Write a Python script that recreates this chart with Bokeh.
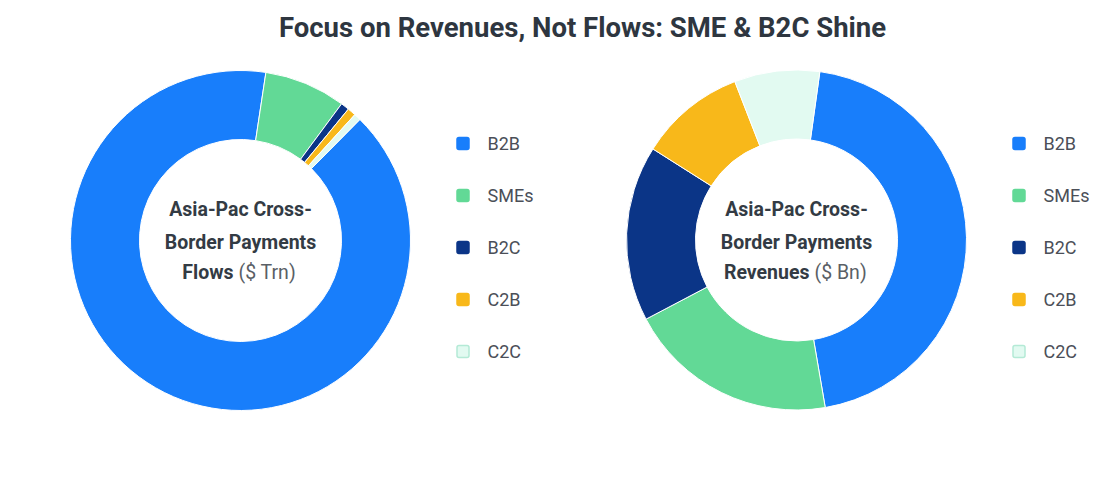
import math
from bokeh.plotting import figure
from bokeh.models import Range1d, ColumnDataSource
from bokeh.core.properties import value
from bokeh.embed import file_html
from bokeh.resources import INLINE

# ---- data (shares, %) ----
categories = ["B2B", "SMEs", "B2C", "C2B", "C2C"]
flows_share = [90.0, 7.75, 0.8, 0.8, 0.65]
revenue_share = [45.1, 20.0, 16.7, 10.1, 8.1]
colors = ["#187efb", "#62d996", "#0b3587", "#f8b81a", "#e2faf1"]
legend_border = ["#187efb", "#62d996", "#0b3587", "#f8b81a", "#b4ead6"]
title_text = "Focus on Revenues, Not Flows: SME & B2C Shine"
center_lines = ["Asia-Pac Cross-", "Border Payments"]
left_bold, left_light = "Flows", "($ Trn)"
right_bold, right_light = "Revenues", "($ Bn)"

W, H = 1098, 464
FONT = "Roboto"

p = figure(width=W, height=H, x_range=Range1d(0, W), y_range=Range1d(0, H),
           output_backend="svg", toolbar_location=None, min_border=0)
p.axis.visible = False
p.grid.visible = False
p.outline_line_color = None
p.background_fill_color = "white"


def Y(img_y):
    return H - img_y


def X(img_x):
    return img_x


def donut(cx, cy, shares, start_deg):
    total = sum(shares)
    starts, ends = [], []
    t = start_deg
    for s in shares:
        t2 = t + 360.0 * s / total
        # clockwise from top -> bokeh anticlock math angles
        starts.append(math.radians(90 - t2))
        ends.append(math.radians(90 - t))
        t = t2
    src = ColumnDataSource(dict(start=starts, end=ends, color=colors))
    p.annular_wedge(x=cx, y=cy, inner_radius=101, outer_radius=170,
                    start_angle="start", end_angle="end", source=src,
                    fill_color="color", line_color="white", line_width=1)


donut(X(240), Y(240), flows_share, 44.6)
donut(X(796), Y(239.5), revenue_share, 7.9)

# title
p.text(x=[X(582)], y=[Y(27)], text=[title_text], text_font=value(FONT),
       text_font_style="bold", text_font_size="27.5px", text_color="#2e3640",
       text_align="center", text_baseline="middle")


def center_text(cx, bold_word, light_word, split_x):
    for i, line in enumerate(center_lines):
        p.text(x=[X(cx)], y=[Y([209, 242][i])], text=[line],
               text_font=value(FONT), text_font_style="bold",
               text_font_size="19.5px", text_color="#333b44",
               text_align="center", text_baseline="middle")
    p.text(x=[X(split_x - 2)], y=[Y(272)], text=[bold_word],
           text_font=value(FONT), text_font_style="bold",
           text_font_size="19.5px", text_color="#333b44",
           text_align="right", text_baseline="middle")
    p.text(x=[X(split_x + 3)], y=[Y(272)], text=[light_word],
           text_font=value(FONT), text_font_style="normal",
           text_font_size="19.5px", text_color="#5a5f66",
           text_align="left", text_baseline="middle")


center_text(240, left_bold, left_light, 235)
center_text(796, right_bold, right_light, 811)


def legend(mx, tx):
    ys = [Y(143 + 52 * i) for i in range(len(categories))]
    src = ColumnDataSource(dict(x=[X(mx)] * 5, y=ys, fill=colors, line=legend_border,
                                text=categories, tx=[X(tx)] * 5))
    p.rect(x="x", y="y", width=12, height=12, source=src, fill_color="fill",
           line_color="line", line_width=1.5, border_radius=2)
    p.text(x="tx", y="y", text="text", source=src, text_font=value(FONT),
           text_font_size="18px", text_color="#4b4f58", text_align="left",
           text_baseline="middle")


legend(462.5, 487)
legend(1018.5, 1043)

open("out.html", "w").write(file_html(p, INLINE))
